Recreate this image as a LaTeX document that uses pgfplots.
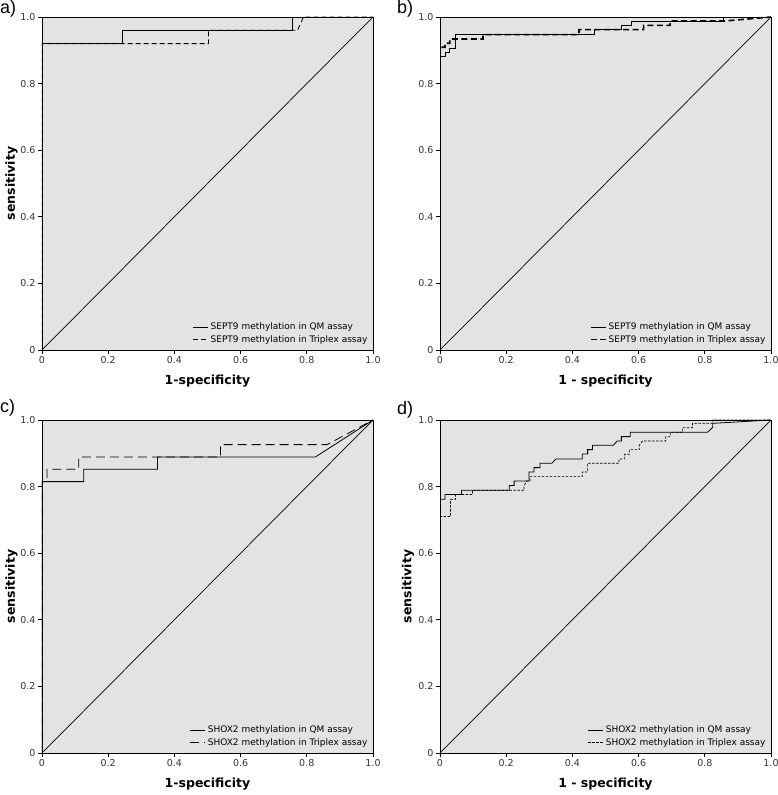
\documentclass[border=0pt]{standalone}
\usepackage{pgfplots}
\pgfplotsset{compat=1.18}
\usepackage{fontspec}
\setmainfont{DejaVu Sans}
\newfontfamily\panelfont{Liberation Sans}
\definecolor{bgfill}{RGB}{227,227,227}
\pgfplotsset{
  rocaxis/.style={
    scale only axis, width=331pt, height=333pt,
    xmin=0, xmax=1, ymin=0, ymax=1,
    axis background/.style={fill=bgfill},
    axis line style={black, line width=0.9pt},
    xtick={0,0.2,0.4,0.6,0.8,1.0}, ytick={0,0.2,0.4,0.6,0.8,1.0},
    xticklabels={0,0.2,0.4,0.6,0.8,1.0}, yticklabels={0,0.2,0.4,0.6,0.8,1.0},
    xtick pos=left, ytick pos=left, tick align=outside,
    major tick length=4pt, tick style={black, line width=0.7pt},
    tick label style={font=\fontsize{9.5}{11}\selectfont, text=black!80},
    xticklabel style={yshift=1pt},
    yticklabel style={xshift=1pt},
    x label style={at={(axis description cs:0.5,-0.092)}, anchor=center, font=\fontsize{12.5}{14}\selectfont\bfseries},
    y label style={at={(axis description cs:-0.092,0.5)}, anchor=center, rotate=0, font=\fontsize{12.5}{14}\selectfont\bfseries},
    legend style={draw=none, fill=none, at={(0.99,0.012)}, anchor=south east,
      font=\fontsize{9}{10.5}\selectfont, row sep=0pt, inner sep=0pt,
      /tikz/every even column/.append style={column sep=2pt}},
    legend cell align=left,
    legend image code/.code={\draw[#1] (0pt,0pt) -- (15pt,0pt);},
  }
}
\begin{document}
\begin{tikzpicture}
\useasboundingbox (0pt,0pt) rectangle (778pt,795pt);
% ---------------- a)
\begin{axis}[rocaxis, at={(42pt,445pt)}, anchor=south west,
  xlabel={1-specificity}, ylabel={sensitivity}]
\addplot[black, line width=0.8pt] coordinates {(0,0)(0,0.92)(0.242,0.92)(0.242,0.96)(0.757,0.96)(0.757,1)(1,1)};
\addlegendentry{SEPT9 methylation in QM assay}
\addplot[black, line width=0.8pt, dash pattern=on 5pt off 3pt] coordinates {(0,0)(0,0.92)(0.503,0.92)(0.503,0.96)(0.772,0.96)(0.79,1)(1,1)};
\addlegendentry{SEPT9 methylation in Triplex assay}
\addplot[black, line width=0.7pt, forget plot] coordinates {(0,0)(1,1)};
\end{axis}
\node[anchor=north west, inner sep=0pt, font=\panelfont\fontsize{18}{20}\selectfont] at (0pt,795pt) {a)};
% ---------------- b)
\begin{axis}[rocaxis, at={(440pt,445pt)}, anchor=south west,
  xlabel={1 - specificity}]
\addplot[black, line width=0.9pt] coordinates {(0,0)(0,0.881)(0.015,0.881)(0.015,0.894)(0.03,0.894)(0.03,0.907)(0.047,0.907)(0.047,0.947)(0.467,0.947)(0.467,0.962)(0.548,0.962)(0.548,0.975)(0.579,0.975)(0.579,0.988)(0.856,0.988)(0.856,1)(1,1)};
\addlegendentry{SEPT9 methylation in QM assay}
\addplot[black, line width=1.6pt, dash pattern=on 6pt off 3.5pt] coordinates {(0,0)(0,0.909)(0.015,0.909)(0.015,0.921)(0.03,0.921)(0.03,0.934)(0.13,0.934)(0.13,0.947)(0.42,0.947)(0.42,0.962)(0.615,0.962)(0.615,0.975)(0.695,0.975)(0.695,0.988)(0.86,0.988)(1,1)};
\addlegendentry{SEPT9 methylation in Triplex assay}
\addplot[black, line width=0.7pt, forget plot] coordinates {(0,0)(1,1)};
\end{axis}
\node[anchor=north west, inner sep=0pt, font=\panelfont\fontsize{18}{20}\selectfont] at (397pt,795pt) {b)};
% ---------------- c)
\begin{axis}[rocaxis, at={(42pt,42pt)}, anchor=south west,
  xlabel={1-specificity}, ylabel={sensitivity}]
\addplot[black, line width=0.8pt] coordinates {(0,0)(0,0.815)(0.126,0.815)(0.126,0.852)(0.349,0.852)(0.349,0.889)(0.826,0.889)(1,1)};
\addlegendentry{SHOX2 methylation in QM assay}
\addplot[black, line width=0.8pt, dash pattern=on 9pt off 5pt] coordinates {(0,0)(0,0.815)(0.015,0.815)(0.015,0.852)(0.111,0.852)(0.111,0.889)(0.539,0.889)(0.539,0.926)(0.861,0.926)(1,1)};
\addlegendentry{SHOX2 methylation in Triplex assay}
\addplot[black, line width=0.7pt, forget plot] coordinates {(0,0)(1,1)};
\end{axis}
\node[anchor=north west, inner sep=0pt, font=\panelfont\fontsize{18}{20}\selectfont] at (0pt,396pt) {c)};
% ---------------- d)
\begin{axis}[rocaxis, at={(440pt,42pt)}, anchor=south west,
  xlabel={1 - specificity}, ylabel={sensitivity},
  y label style={at={(axis description cs:-0.097,0.5)}}]
\addplot[black, line width=0.8pt] coordinates {(0,0)(0,0.762)(0.015,0.762)(0.015,0.776)(0.065,0.776)(0.065,0.789)(0.209,0.789)(0.209,0.803)(0.224,0.803)(0.224,0.817)(0.269,0.817)(0.269,0.844)(0.284,0.844)(0.284,0.857)(0.302,0.857)(0.302,0.870)(0.338,0.870)(0.35,0.883)(0.43,0.883)(0.43,0.898)(0.446,0.898)(0.446,0.911)(0.461,0.911)(0.461,0.924)(0.524,0.924)(0.535,0.937)(0.548,0.937)(0.548,0.95)(0.575,0.95)(0.575,0.963)(0.808,0.963)(0.824,0.978)(0.824,0.99)(1,1)};
\addlegendentry{SHOX2 methylation in QM assay}
\addplot[black, line width=0.7pt, dash pattern=on 2.5pt off 1.5pt] coordinates {(0,0)(0,0.71)(0.032,0.71)(0.032,0.762)(0.047,0.762)(0.047,0.776)(0.098,0.776)(0.098,0.789)(0.254,0.789)(0.254,0.803)(0.262,0.817)(0.272,0.817)(0.272,0.830)(0.43,0.830)(0.43,0.844)(0.446,0.844)(0.446,0.870)(0.541,0.870)(0.541,0.883)(0.557,0.883)(0.557,0.897)(0.572,0.897)(0.572,0.911)(0.602,0.911)(0.602,0.924)(0.612,0.937)(0.682,0.937)(0.682,0.95)(0.696,0.95)(0.696,0.963)(0.733,0.963)(0.733,0.977)(0.763,0.977)(0.763,0.99)(0.824,0.99)(0.824,1)(1,1)};
\addlegendentry{SHOX2 methylation in Triplex assay}
\addplot[black, line width=0.7pt, forget plot] coordinates {(0,0)(1,1)};
\end{axis}
\node[anchor=north west, inner sep=0pt, font=\panelfont\fontsize{18}{20}\selectfont] at (397pt,394pt) {d)};
\end{tikzpicture}
\end{document}
